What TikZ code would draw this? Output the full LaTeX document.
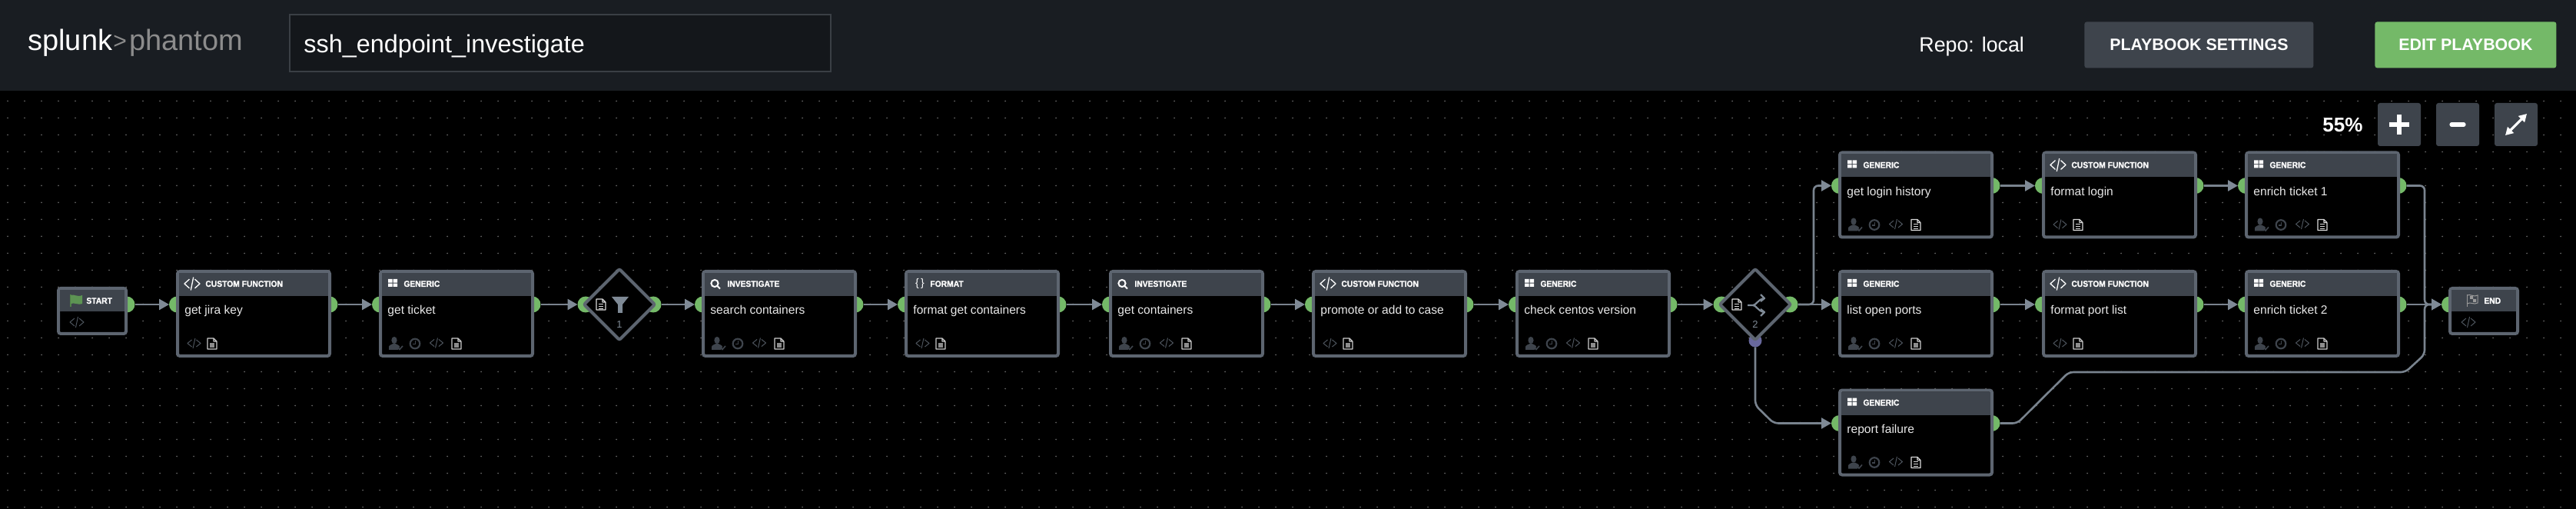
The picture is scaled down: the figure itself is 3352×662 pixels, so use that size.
\documentclass[tikz,border=0pt]{standalone}
\usepackage{fontspec}
\usetikzlibrary{arrows.meta,shapes.geometric}
\setmainfont{Liberation Sans}
\newfontfamily\hdrfont{Liberation Sans}[FakeStretch=0.92,BoldFeatures={FakeBold=0.8}]
\newcommand{\fsz}[1]{\fontsize{#1}{#1}\selectfont}
\definecolor{topbar}{HTML}{191D22}
\definecolor{inputbg}{HTML}{14171B}
\definecolor{inputbd}{HTML}{3A3F45}
\definecolor{hdr}{HTML}{3E444C}
\definecolor{bord}{HTML}{5D6570}
\definecolor{portg}{HTML}{74B968}
\definecolor{portp}{HTML}{68689C}
\definecolor{linec}{HTML}{79838E}
\definecolor{arrowc}{HTML}{7F8A96}
\definecolor{dotc}{HTML}{606060}
\definecolor{dim}{HTML}{4E555E}
\definecolor{labelc}{HTML}{E8E8E8}
\tikzset{
  boxbody/.style={draw=bord,fill=black,line width=2pt,rounded corners=1.5pt,anchor=north west,inner sep=0pt,outer sep=0pt,minimum width=#1},
  boxbody/.default=99pt,
  port/.style={circle,fill=portg,inner sep=0pt,outer sep=0pt,minimum size=10.5pt},
  failport/.style={circle,fill=portp,inner sep=0pt,outer sep=0pt,minimum size=8.5pt},
  gate/.style={diamond,aspect=1,draw=bord,fill=black,line width=2pt,rounded corners=1pt,inner sep=0pt,outer sep=0pt,minimum width=46pt,minimum height=46pt},
  conn/.style={draw=linec,line width=1.3pt,rounded corners=3pt,-{Triangle[length=6.5pt,width=7pt,fill=arrowc,color=arrowc]}},
  typetext/.style={anchor=base west,inner sep=0pt,text=white,font=\hdrfont\bfseries\fsz{5.6}},
  labeltext/.style={anchor=base west,inner sep=0pt,text=labelc,font=\fsz{7.8}},
  bartext/.style={inner sep=0pt,text=white},
  ctrl/.style={fill=hdr,rounded corners=1.5pt,inner sep=0pt,outer sep=0pt,minimum width=28pt,minimum height=28pt},
  dotrow/.style={draw=dotc,line width=1pt,line cap=round,dash pattern=on 0pt off 11pt},
}
% icons ----------------------------------------------------
\newcommand{\codeicon}[6]{% cx cy hw hh colour lw
  \begin{scope}[shift={(#1,#2)},draw=#5,line width=#6,line join=round]
    \draw ({-0.35*#3},{-0.7*#4}) -- ({-1*#3},0) -- ({-0.35*#3},{0.7*#4});
    \draw ({0.35*#3},{-0.7*#4}) -- ({1*#3},0) -- ({0.35*#3},{0.7*#4});
    \draw ({0.17*#3},{-1*#4}) -- ({-0.17*#3},{1*#4});
  \end{scope}}
\newcommand{\docF}[2]{\begin{scope}[shift={(#1,#2)}]
    \draw[draw=white!80!black,line width=.55pt,line join=round] (-6,-7) -- (2,-7) -- (6,-3) -- (6,7) -- (-6,7) -- cycle (2,-7) -- (2,-3) -- (6,-3);
    \fill[white!55!black] (-3,-1) rectangle (3,5);
  \end{scope}}
\newcommand{\docL}[2]{\begin{scope}[shift={(#1,#2)}]
    \draw[draw=white!85!black,line width=.55pt,line join=round] (-6,-7) -- (2,-7) -- (6,-3) -- (6,7) -- (-6,7) -- cycle (2,-7) -- (2,-3) -- (6,-3);
    \draw[white!85!black,line width=.4pt] (-3,-1) -- (3,-1) (-3,2) -- (3,2) (-3,5) -- (3,5);
  \end{scope}}
\newcommand{\usericon}[2]{\begin{scope}[shift={(#1,#2)}]
    \fill[hdr] (-2,-4.5) ellipse [x radius=3.6,y radius=4.6];
    \fill[hdr] (-9,8) -- (-9,4) .. controls (-9,2) and (-5,1) .. (-3.5,0) -- (-0.5,0) .. controls (1,1) and (5,2) .. (5,4) -- (3,8) -- cycle;
    \draw[hdr,line width=.8pt] (3,5) -- (5,7.5) -- (9,3);
  \end{scope}}
\newcommand{\clockicon}[2]{\begin{scope}[shift={(#1,#2)}]
    \draw[hdr,line width=1.1pt] (0,0) circle [radius=6.3];
    \draw[hdr,line width=.7pt] (0.5,-3.5) -- (0.5,0.5) -- (-3,0.5);
  \end{scope}}
\newcommand{\footGen}[1]{\usericon{22}{96}\clockicon{47}{96}\codeicon{75}{95}{8.5}{6.5}{dim}{.5pt}#1{101}{96}}
\newcommand{\footFn}[1]{\codeicon{23.5}{95.5}{8.5}{6.5}{dim}{.5pt}#1{47}{96}}
\newcommand{\icGen}{\fill[white] (12,12) rectangle (17.6,16.6) (18.6,12) rectangle (24,16.6) (12,17.6) rectangle (17.6,22) (18.6,17.6) rectangle (24,22);}
\newcommand{\icFn}{\codeicon{21}{18}{10}{8.5}{white}{.65pt}}
\newcommand{\icInv}{\draw[white,line width=1pt] (17,17.5) circle [radius=4.6] (20.4,21) -- (24,24.5);}
\newcommand{\icFmt}[1]{\node[anchor=base,inner sep=0pt,text=white,font=\fsz{7}] (#1-brace) at (20,22) {\{\,\}};}
% playbook block: name, x, y, header icon, text x, type, label, footer
\newcommand{\pblock}[8]{\begin{scope}[shift={(#2,#3)}]
    \node[port] (#1-in) at (1.5,45) {};
    \node[port] (#1-out) at (200,45) {};
    \node[boxbody,minimum height=55pt] (#1) at (2,2) {};
    \fill[hdr] (4,4) rectangle (198,34);
    #4
    \node[typetext] (#1-type) at (#5,22) {#6};
    \node[labeltext] (#1-label) at (11,58) {#7};
    #8
  \end{scope}}
\begin{document}
\begin{tikzpicture}[x=0.5pt,y=-0.5pt]
\useasboundingbox (0,0) rectangle (3352,662);
\fill[black] (0,0) rectangle (3352,662);
\fill[topbar] (0,0) rectangle (3352,118);
% canvas dots
\foreach \gy in {0,...,24} {\draw[dotrow] (10,{131.5+22*\gy}) -- (3352,{131.5+22*\gy});}
% top bar
\node[bartext,anchor=base west,font=\fsz{19}] (logoa) at (36,66) {splunk};
\node[bartext,anchor=base west,text=white!55!black,font=\fsz{15}] (logob) at (147,64) {>};
\node[bartext,anchor=base west,text=white!55!black,font=\fsz{19}] (logoc) at (168,66) {phantom};
\node[draw=inputbd,fill=inputbg,line width=1pt,inner sep=0pt,outer sep=0pt,anchor=north west,minimum width=352pt,minimum height=37pt] (namebox) at (377,19) {};
\node[bartext,anchor=base west,font=\fsz{16.2}] (nametext) at (395,69) {ssh\_endpoint\_investigate};
\node[bartext,anchor=base west,font=\fsz{13.4}] (repo) at (2497,68) {Repo: local};
\node[fill=hdr,rounded corners=1.5pt,bartext,minimum width=149pt,minimum height=30pt,anchor=north west,font=\bfseries\fsz{10.7}] (settings) at (2712,28) {PLAYBOOK SETTINGS};
\node[fill=portg,rounded corners=1.5pt,bartext,minimum width=118pt,minimum height=30pt,anchor=north west,font=\bfseries\fsz{10.7}] (edit) at (3090,28) {EDIT PLAYBOOK};
% zoom controls
\node[bartext,anchor=base west,font=\bfseries\fsz{13}] (zoomval) at (3022,172) {55\%};
\node[ctrl,anchor=north west] (zin) at (3094,134) {};
\node[ctrl,anchor=north west] (zout) at (3170,134) {};
\node[ctrl,anchor=north west] (zfit) at (3246,134) {};
\draw[white,line width=2.6pt] (zin.center) ++(-13,0) -- ++(26,0) (zin.center) ++(0,-13) -- ++(0,26);
\draw[white,line width=2.6pt,line cap=round] (zout.center) ++(-8,0) -- ++(16,0);
\draw[white,line width=1.6pt,{Triangle[length=5pt,width=5.5pt]}-{Triangle[length=5pt,width=5.5pt]}] (zfit.center) ++(-14,14) -- ++(28,-28);
% start
\begin{scope}[shift={(74,373)}]
  \node[port] (start-out) at (91,23) {};
  \node[boxbody=44pt,minimum height=29.5pt] (start) at (2,2) {};
  \fill[hdr] (4,4) rectangle (88,32);
  \draw[portg!70!black,line width=.6pt] (18,10) -- (18,26);
  \fill[portg!80!black] (18,11) .. controls (23,9) and (26,14) .. (33,11) -- (33,22) .. controls (26,24) and (23,20) .. (18,22) -- cycle;
  \node[typetext] (start-type) at (38,22) {START};
  \codeicon{26}{46}{9}{7}{dim}{.5pt}
\end{scope}
% main row
\pblock{jira}{229}{351}{\icFn}{38}{CUSTOM FUNCTION}{get jira key}{\footFn\docF}
\pblock{ticket}{493}{351}{\icGen}{32}{GENERIC}{get ticket}{\footGen\docF}
% filter
\node[port] (filter-in) at (762,396) {};
\node[port] (filter-out) at (850,396) {};
\node[gate] (filter) at (806,396) {};
\docL{782}{396}
\fill[arrowc] (796,386) -- (818,386) -- (810,396) -- (810,407) -- (804,407) -- (804,396) -- cycle;
\node[inner sep=0pt,text=arrowc,font=\fsz{6.5}] (filter-n) at (806,422) {1};
\pblock{search}{913}{351}{\icInv}{33}{INVESTIGATE}{search containers}{\footGen\docF}
\pblock{fmtget}{1177}{351}{\icFmt{fmtget}}{33}{FORMAT}{format get containers}{\footFn\docF}
\pblock{getcont}{1443}{351}{\icInv}{33}{INVESTIGATE}{get containers}{\footGen\docF}
\pblock{promote}{1707}{351}{\icFn}{38}{CUSTOM FUNCTION}{promote or add to case}{\footFn\docF}
\pblock{centos}{1972}{351}{\icGen}{32}{GENERIC}{check centos version}{\footGen\docF}
% decision
\node[port] (dec-in) at (2240,396) {};
\node[port] (dec-out) at (2329,396) {};
\node[failport] (dec-fail) at (2284,443) {};
\node[gate] (dec) at (2284,396) {};
\docL{2260}{396}
\begin{scope}[draw=arrowc,line width=1.1pt,line join=round]
  \draw (2274,397) -- (2281,397) .. controls (2285,397) and (2287,390) .. (2295,388);
  \draw (2281,397) .. controls (2285,397) and (2287,404) .. (2295,406);
  \draw (2291,383) -- (2296,388) -- (2291,392);
  \draw (2291,402) -- (2296,406) -- (2291,411);
\end{scope}
\node[inner sep=0pt,text=arrowc,font=\fsz{6.5}] (dec-n) at (2284,422) {2};
% branches
\pblock{login}{2392}{196.5}{\icGen}{32}{GENERIC}{get login history}{\footGen\docL}
\pblock{fmtlogin}{2657}{196.5}{\icFn}{38}{CUSTOM FUNCTION}{format login}{\footFn\docL}
\pblock{enrich1}{2921}{196.5}{\icGen}{32}{GENERIC}{enrich ticket 1}{\footGen\docL}
\pblock{ports}{2392}{351}{\icGen}{32}{GENERIC}{list open ports}{\footGen\docF}
\pblock{fmtports}{2657}{351}{\icFn}{38}{CUSTOM FUNCTION}{format port list}{\footFn\docF}
\pblock{enrich2}{2921}{351}{\icGen}{32}{GENERIC}{enrich ticket 2}{\footGen\docF}
\pblock{report}{2392}{505.5}{\icGen}{32}{GENERIC}{report failure}{\footGen\docL}
% end
\begin{scope}[shift={(3186,373)}]
  \node[port] (end-in) at (1.5,23) {};
  \node[boxbody=44pt,minimum height=29.5pt] (end) at (2,2) {};
  \fill[hdr] (4,4) rectangle (88,32);
  \draw[white!60!black,line width=.5pt] (24,10) -- (24,26);
  \draw[white!60!black,line width=.5pt] (24,11) .. controls (29,9) and (33,14) .. (38,11) -- (38,21) .. controls (33,24) and (29,19) .. (24,22);
  \fill[white!60!black] (28,12) rectangle (32,16) (32,16) rectangle (36,20);
  \node[typetext] (end-type) at (46,22) {END};
  \codeicon{26}{46}{9}{7}{dim}{.5pt}
\end{scope}
% bends
\coordinate (upa) at (2360,396);
\coordinate (upb) at (2360,241.5);
\coordinate (faila) at (2284,527);
\coordinate (failb) at (2308,550.5);
\coordinate (repa) at (2625,550.5);
\coordinate (repb) at (2692,484);
\coordinate (repc) at (3130,484);
\coordinate (repd) at (3155,461);
\coordinate (joina) at (3155,396);
\coordinate (joinb) at (3155,241.5);
% connectors
\path[conn] (start-out.east) -- (jira-in.west);
\path[conn] (jira-out.east) -- (ticket-in.west);
\path[conn] (ticket-out.east) -- (filter-in.west);
\path[conn] (filter-out.east) -- (search-in.west);
\path[conn] (search-out.east) -- (fmtget-in.west);
\path[conn] (fmtget-out.east) -- (getcont-in.west);
\path[conn] (getcont-out.east) -- (promote-in.west);
\path[conn] (promote-out.east) -- (centos-in.west);
\path[conn] (centos-out.east) -- (dec-in.west);
\path[conn] (dec-out.east) -- (ports-in.west);
\path[conn] (dec-out.east) -- (upa) -- (upb) -- (login-in.west);
\path[conn] (dec-fail.south) -- (faila) -- (failb) -- (report-in.west);
\path[conn] (login-out.east) -- (fmtlogin-in.west);
\path[conn] (fmtlogin-out.east) -- (enrich1-in.west);
\path[conn] (ports-out.east) -- (fmtports-in.west);
\path[conn] (fmtports-out.east) -- (enrich2-in.west);
\path[conn] (enrich1-out.east) -- (joinb) -- (joina) -- (end-in.west);
\path[conn] (enrich2-out.east) -- (end-in.west);
\path[conn] (report-out.east) -- (repa) -- (repb) -- (repc) -- (repd) -- (joina) -- (end-in.west);
\end{tikzpicture}
\end{document}
